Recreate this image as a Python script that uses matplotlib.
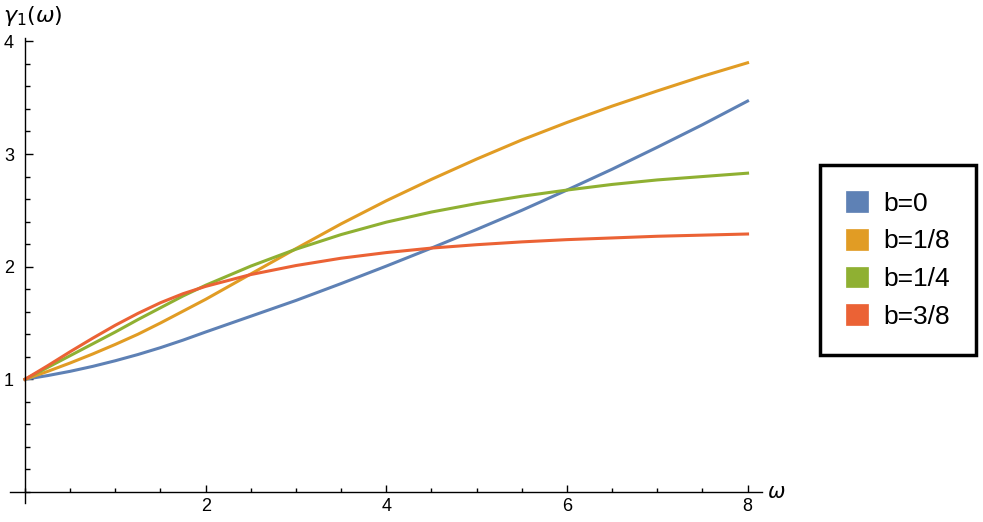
import numpy as np
import matplotlib.pyplot as plt
from matplotlib.patches import Patch
from matplotlib.ticker import MultipleLocator

plt.rcParams['font.family'] = ['Liberation Sans', 'DejaVu Sans']

# values
omega = [0, 0.25, 0.5, 0.75, 1, 1.25, 1.5, 1.75, 2, 2.5, 3, 3.5, 4, 4.5, 5, 5.5, 6, 6.5, 7, 7.5, 8]
g_b0 = [1.00, 1.033, 1.071, 1.115, 1.165, 1.22, 1.281, 1.348, 1.42, 1.56, 1.70, 1.85, 2.005,
        2.165, 2.33, 2.50, 2.68, 2.865, 3.06, 3.26, 3.47]
g_b18 = [1.00, 1.07, 1.145, 1.225, 1.31, 1.40, 1.50, 1.605, 1.71, 1.935, 2.16, 2.38, 2.585,
         2.775, 2.955, 3.125, 3.28, 3.425, 3.56, 3.69, 3.81]
g_b14 = [1.00, 1.105, 1.21, 1.315, 1.42, 1.53, 1.635, 1.74, 1.835, 2.005, 2.155, 2.285, 2.395,
         2.485, 2.56, 2.625, 2.68, 2.73, 2.77, 2.80, 2.83]
g_b38 = [1.00, 1.12, 1.245, 1.365, 1.48, 1.585, 1.68, 1.76, 1.825, 1.93, 2.01, 2.075, 2.125,
         2.165, 2.195, 2.22, 2.24, 2.255, 2.27, 2.28, 2.29]
labels = ['b=0', 'b=1/8', 'b=1/4', 'b=3/8']
colors = ['#5E81B5', '#E19C24', '#8FB032', '#EB6235']

W, H = 983, 522
fig = plt.figure(figsize=(W / 100, H / 100), dpi=100)
ax = fig.add_axes([10 / W, 19 / H, (762 - 10) / W, (503 - 38) / H])

for ys, c in zip([g_b0, g_b18, g_b14, g_b38], colors):
    ax.plot(omega, ys, color=c, lw=2.2, solid_joinstyle='round')

ax.set_xlim(-0.166, 8.16)
ax.set_ylim(-0.098, 4.03)

# axes through the origin, mathematica style
for s in ['top', 'right']:
    ax.spines[s].set_visible(False)
ax.spines['left'].set_position(('data', 0))
ax.spines['bottom'].set_position(('data', 0))
ax.spines['left'].set_linewidth(1.0)
ax.spines['bottom'].set_linewidth(1.0)

ax.xaxis.set_minor_locator(MultipleLocator(0.5))
ax.yaxis.set_minor_locator(MultipleLocator(0.2))
ax.set_xticks([2, 4, 6, 8])
ax.set_yticks([1, 2, 3, 4])
ax.tick_params(which='both', direction='in', labelsize=13, width=1.0)
ax.tick_params(axis='y', which='major', length=6, pad=8)
ax.tick_params(axis='y', which='minor', length=3.5)
ax.tick_params(axis='x', which='major', length=5, pad=4)
ax.tick_params(axis='x', which='minor', length=3)

fig.text(3 / W, 1 - 16 / H, r'$\gamma_1(\omega)$', fontsize=16, va='center', ha='left')
fig.text(767 / W, 1 - 492 / H, r'$\omega$', fontsize=15, va='center', ha='left')

handles = [Patch(facecolor=c, edgecolor=c, lw=0.5) for c in colors]
leg = fig.legend(handles, labels, loc='center', bbox_to_anchor=(898 / W, 1 - 260 / H),
                 fontsize=19, handlelength=0.83, handleheight=0.83, handletextpad=0.57,
                 labelspacing=0.5, borderpad=1.0, fancybox=False, edgecolor='black',
                 framealpha=1)
leg.get_frame().set_linewidth(2.5)

fig.savefig('out.png', dpi=100)
